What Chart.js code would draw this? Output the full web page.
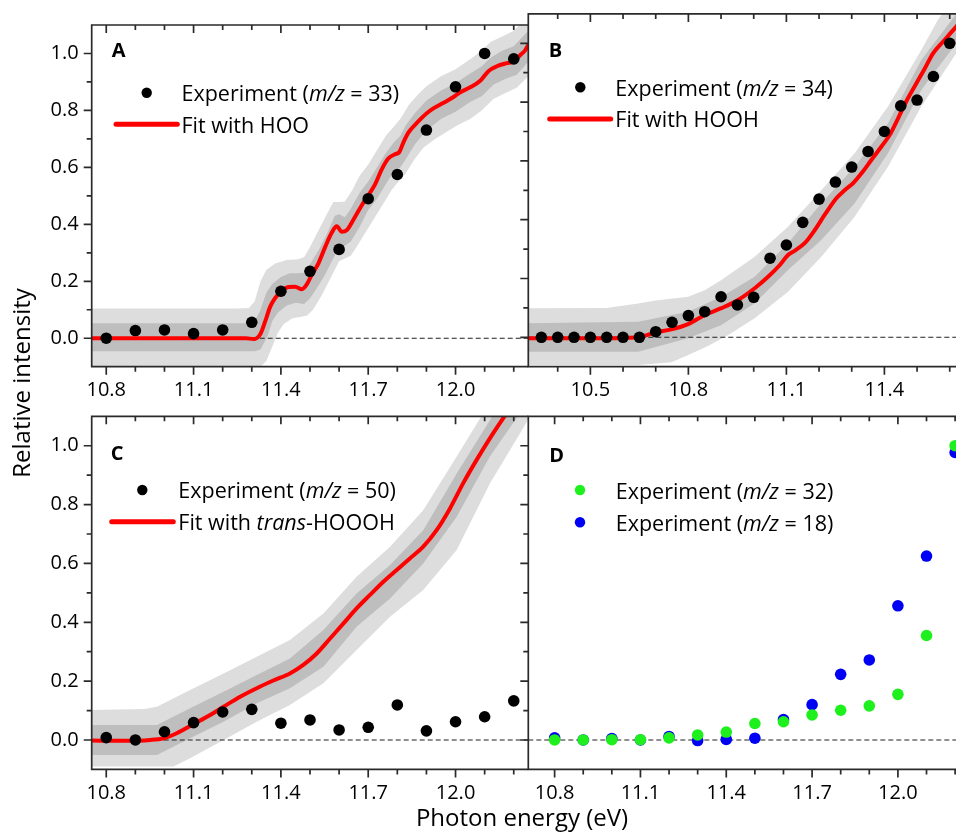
<!DOCTYPE html>
<html>
<head>
<meta charset="utf-8">
<script src="https://cdn.jsdelivr.net/npm/chart.js@4.4.1/dist/chart.umd.min.js"></script>
<style>
html,body{margin:0;padding:0;background:#fff;overflow:hidden;width:956px;height:838px;position:relative;}
canvas{position:absolute;left:0;top:0;}
</style>
</head>
<body>
<canvas id="cA"></canvas>
<canvas id="cB"></canvas>
<canvas id="cC"></canvas>
<canvas id="cD"></canvas>
<script>
// ================= DATA =================
// Photon energies of the measured points
const energy = [10.8,10.9,11.0,11.1,11.2,11.3,11.4,11.5,11.6,11.7,11.8,11.9,12.0,12.1,12.2];
const energyB = [10.35,10.40,10.45,10.50,10.55,10.60,10.65,10.70,10.75,10.80,10.85,10.90,10.95,11.00,11.05,11.10,11.15,11.20,11.25,11.30,11.35,11.40,11.45,11.50,11.55,11.60];

// Panel A: m/z = 33 and HOO fit
const expA = [0.000,0.027,0.029,0.016,0.029,0.056,0.165,0.235,0.312,0.490,0.575,0.731,0.883,1.000,0.981];
const fitA = [[10.75,0],[11.20,0],[11.28,0],[11.306,-0.003],[11.329,0.014],[11.346,0.059],[11.363,0.11],[11.38,0.141],[11.403,0.167],[11.426,0.18],[11.449,0.181],[11.472,0.172],[11.489,0.189],[11.506,0.223],[11.529,0.263],[11.552,0.32],[11.575,0.371],[11.592,0.393],[11.609,0.374],[11.626,0.379],[11.649,0.416],[11.678,0.467],[11.701,0.503],[11.724,0.541],[11.746,0.592],[11.769,0.631],[11.792,0.646],[11.807,0.654],[11.821,0.688],[11.838,0.722],[11.867,0.756],[11.901,0.79],[11.924,0.807],[11.959,0.827],[11.993,0.847],[12.016,0.864],[12.05,0.881],[12.085,0.904],[12.113,0.938],[12.142,0.955],[12.176,0.966],[12.199,0.972],[12.222,0.994],[12.239,1.011],[12.25,1.03]];
const lightUpA = [[10.75,0.104],[11.25,0.104],[11.29,0.106],[11.31,0.13],[11.33,0.2],[11.35,0.24],[11.38,0.262],[11.42,0.275],[11.46,0.277],[11.48,0.285],[11.50,0.32],[11.53,0.38],[11.56,0.44],[11.58,0.478],[11.60,0.478],[11.62,0.48],[11.645,0.52],[11.67,0.57],[11.70,0.61],[11.73,0.66],[11.76,0.71],[11.79,0.745],[11.81,0.77],[11.84,0.82],[11.87,0.855],[11.90,0.885],[11.95,0.92],[12.00,0.945],[12.05,0.98],[12.09,1.01],[12.12,1.04],[12.16,1.06],[12.20,1.08],[12.25,1.13]];
const lightLoA = [[10.75,-0.1],[11.33,-0.1],[11.35,-0.08],[11.37,-0.03],[11.39,0.02],[11.41,0.05],[11.44,0.07],[11.47,0.075],[11.49,0.08],[11.51,0.1],[11.54,0.15],[11.57,0.21],[11.60,0.27],[11.62,0.28],[11.64,0.29],[11.66,0.32],[11.69,0.37],[11.72,0.42],[11.75,0.47],[11.78,0.52],[11.80,0.545],[11.83,0.58],[11.86,0.63],[11.89,0.67],[11.93,0.7],[11.97,0.725],[12.01,0.75],[12.05,0.77],[12.09,0.8],[12.13,0.84],[12.17,0.86],[12.21,0.88],[12.25,0.92]];
const darkUpA = [[10.75,0.053],[11.28,0.053],[11.31,0.06],[11.33,0.1],[11.35,0.16],[11.37,0.19],[11.40,0.215],[11.43,0.228],[11.46,0.228],[11.48,0.23],[11.50,0.26],[11.53,0.31],[11.56,0.37],[11.585,0.43],[11.60,0.435],[11.62,0.425],[11.64,0.455],[11.67,0.51],[11.70,0.55],[11.73,0.6],[11.76,0.65],[11.79,0.69],[11.81,0.71],[11.83,0.75],[11.86,0.79],[11.90,0.835],[11.95,0.87],[12.00,0.895],[12.05,0.93],[12.09,0.955],[12.12,0.985],[12.16,1.01],[12.20,1.025],[12.25,1.08]];
const darkLoA = [[10.75,-0.046],[11.31,-0.046],[11.33,-0.04],[11.355,0.01],[11.37,0.06],[11.39,0.09],[11.42,0.115],[11.45,0.125],[11.48,0.12],[11.50,0.14],[11.52,0.17],[11.55,0.22],[11.58,0.28],[11.60,0.32],[11.62,0.325],[11.64,0.34],[11.67,0.39],[11.70,0.45],[11.73,0.49],[11.76,0.54],[11.79,0.59],[11.81,0.6],[11.83,0.63],[11.86,0.68],[11.90,0.73],[11.95,0.77],[12.00,0.795],[12.05,0.83],[12.09,0.85],[12.13,0.89],[12.17,0.91],[12.21,0.925],[12.25,0.97]];

// Panel B: m/z = 34 and HOOH fit
const expB = [0,0,0,0,0,0,0,0.019,0.051,0.074,0.087,0.138,0.110,0.136,0.269,0.314,0.391,0.470,0.528,0.579,0.632,0.700,0.787,0.807,0.887,1.000];
const fitB = [[10.31,-0.003],[10.564,-0.003],[10.656,0.002],[10.697,0.016],[10.748,0.027],[10.799,0.045],[10.85,0.076],[10.901,0.099],[10.952,0.127],[11.003,0.167],[11.044,0.206],[11.08,0.246],[11.105,0.28],[11.126,0.295],[11.156,0.32],[11.187,0.365],[11.217,0.416],[11.253,0.473],[11.279,0.501],[11.304,0.524],[11.33,0.558],[11.36,0.603],[11.391,0.649],[11.416,0.688],[11.442,0.745],[11.472,0.813],[11.498,0.864],[11.524,0.915],[11.549,0.966],[11.58,1.006],[11.62,1.057],[11.64,1.08]];
const lightUpB = [[10.31,0.099],[10.55,0.10],[10.646,0.115],[10.70,0.125],[10.799,0.138],[10.85,0.16],[10.901,0.195],[11.003,0.274],[11.105,0.376],[11.207,0.50],[11.309,0.626],[11.411,0.785],[11.513,0.977],[11.564,1.08],[11.64,1.2]];
const lightLoB = [[10.31,-0.094],[10.646,-0.094],[10.748,-0.085],[10.80,-0.06],[10.86,-0.03],[10.922,0.008],[11.003,0.065],[11.105,0.155],[11.207,0.274],[11.309,0.41],[11.411,0.58],[11.513,0.785],[11.62,0.966],[11.64,1.0]];
const darkUpB = [[10.31,0.048],[10.646,0.053],[10.799,0.087],[10.901,0.138],[11.003,0.206],[11.105,0.32],[11.207,0.456],[11.309,0.58],[11.411,0.728],[11.513,0.943],[11.62,1.1],[11.64,1.13]];
const darkLoB = [[10.31,-0.049],[10.646,-0.049],[10.799,-0.003],[10.901,0.042],[11.003,0.116],[11.105,0.229],[11.207,0.331],[11.309,0.456],[11.411,0.626],[11.513,0.841],[11.62,1.0],[11.64,1.03]];

// Panel C: m/z = 50 and trans-HOOOH fit
const expC = [0.008,0.000,0.028,0.059,0.095,0.104,0.057,0.068,0.034,0.043,0.119,0.031,0.062,0.079,0.133];
const fitC = [[10.745,-0.002],[10.859,-0.003],[10.951,0],[10.997,0.006],[11.042,0.023],[11.10,0.054],[11.157,0.085],[11.203,0.113],[11.26,0.147],[11.317,0.176],[11.374,0.202],[11.431,0.226],[11.477,0.255],[11.523,0.294],[11.569,0.345],[11.615,0.396],[11.66,0.447],[11.706,0.493],[11.752,0.538],[11.798,0.578],[11.843,0.617],[11.889,0.657],[11.935,0.713],[11.981,0.787],[12.026,0.872],[12.072,0.951],[12.118,1.025],[12.175,1.11],[12.25,1.22]];
const lightUpC = [[10.745,0.102],[10.93,0.105],[10.974,0.113],[11.088,0.17],[11.203,0.226],[11.317,0.283],[11.431,0.34],[11.546,0.43],[11.66,0.555],[11.775,0.657],[11.889,0.781],[12.004,0.963],[12.095,1.11],[12.25,1.35]];
const lightLoC = [[10.745,-0.09],[11.031,-0.09],[11.088,-0.062],[11.203,0.0],[11.317,0.062],[11.431,0.119],[11.546,0.193],[11.66,0.306],[11.775,0.419],[11.889,0.51],[12.004,0.646],[12.118,0.872],[12.228,1.053],[12.25,1.09]];
const darkUpC = [[10.745,0.051],[10.974,0.051],[11.088,0.108],[11.203,0.164],[11.317,0.221],[11.431,0.277],[11.546,0.374],[11.66,0.498],[11.775,0.595],[11.889,0.713],[12.004,0.906],[12.118,1.087],[12.25,1.3]];
const darkLoC = [[10.745,-0.051],[10.974,-0.051],[11.088,0.006],[11.203,0.062],[11.317,0.125],[11.431,0.176],[11.546,0.249],[11.66,0.385],[11.775,0.481],[11.889,0.6],[12.004,0.759],[12.118,0.963],[12.228,1.12],[12.25,1.15]];

// Panel D: m/z = 32 and m/z = 18
const expD32 = [0.000,0.000,0.001,0.001,0.007,0.017,0.027,0.056,0.062,0.085,0.101,0.116,0.155,0.355,1.000];
const expD18 = [0.007,0.000,0.005,0.000,0.012,-0.002,0.002,0.006,0.069,0.120,0.223,0.272,0.456,0.625,0.977];

// Axis ranges and ticks
const yRange = [-0.1, 1.1];
const xRangeAC = [10.75, 12.25];
const xRangeB = [10.31, 11.64];
const xRangeD = [10.708, 12.237];
const yMajorTicks = [0.0, 0.2, 0.4, 0.6, 0.8, 1.0];
const yMinorTicks = [0.0,0.1,0.2,0.3,0.4,0.5,0.6,0.7,0.8,0.9,1.0];
const xMajorTicksACD = [10.8, 11.1, 11.4, 11.7, 12.0];
const xMinorTicksACD = [10.8,10.9,11.0,11.1,11.2,11.3,11.4,11.5,11.6,11.7,11.8,11.9,12.0,12.1,12.2];
const xMajorTicksB = [10.5, 10.8, 11.1, 11.4];
const xMinorTicksB = [10.4,10.5,10.6,10.7,10.8,10.9,11.0,11.1,11.2,11.3,11.4,11.5,11.6];

// Text
const panelLetters = ['A','B','C','D'];
const legendTextA = [[['Experiment (',0],['m/z',1],[' = 33)',0]], [['Fit with HOO',0]]];
const legendTextB = [[['Experiment (',0],['m/z',1],[' = 34)',0]], [['Fit with HOOH',0]]];
const legendTextC = [[['Experiment (',0],['m/z',1],[' = 50)',0]], [['Fit with ',0],['trans',1],['-HOOOH',0]]];
const legendTextD = [[['Experiment (',0],['m/z',1],[' = 32)',0]], [['Experiment (',0],['m/z',1],[' = 18)',0]]];
const yTitle = 'Relative intensity';
const xTitle = 'Photon energy (eV)';

// ================= STYLE / LAYOUT =================
const FONT = "'Open Sans', sans-serif";
Chart.defaults.font.family = FONT;
const W = 980, H = 838, YW = 80, XH = 40;
const LIGHT = '#dddddd', DARK = '#bebebe', RED = '#ff0000', AXIS = '#2a2a2a';
const GREEN = '#1ef01e', BLUE = '#0000f5';

const toPts = arr => arr.map(([x, y]) => ({x, y}));
const zipPts = (xs, ys) => xs.map((x, i) => ({x, y: ys[i]}));
const poly = (up, lo) => toPts(up).concat(toPts(lo).reverse());

function band(up, lo, color, order) {
  return {type: 'line', data: poly(up, lo), showLine: true, fill: 'shape', backgroundColor: color,
    borderWidth: 0, borderColor: 'rgba(0,0,0,0)', pointRadius: 0, tension: 0, order};
}
function fitLine(arr) {
  return {type: 'line', data: toPts(arr), borderColor: RED, borderWidth: 4, pointRadius: 0, fill: false,
    cubicInterpolationMode: 'monotone', borderJoinStyle: 'round', borderCapStyle: 'round', order: 20};
}
function zeroLine(range) {
  return {type: 'line', data: [{x: range[0], y: 0}, {x: range[1], y: 0}], borderColor: '#222',
    borderWidth: 1.1, borderDash: [5, 3], pointRadius: 0, fill: false, order: 30};
}
function dots(xs, ys, color, order) {
  return {type: 'scatter', data: zipPts(xs, ys), pointRadius: 5.8, pointBackgroundColor: color,
    pointBorderWidth: 0, pointBorderColor: color, showLine: false, order};
}

function drawRich(ctx, parts, x, y, size) {
  let cx = x;
  parts.forEach(([t, it]) => {
    ctx.font = (it ? 'italic ' : '') + size + 'px ' + FONT;
    ctx.fillText(t, cx, y);
    cx += ctx.measureText(t).width;
  });
}

const framePlugin = {
  id: 'frame',
  afterDatasetsDraw(chart, args, o) {
    const ctx = chart.ctx;
    const {left, right, top, bottom} = chart.chartArea;
    const xs = chart.scales.x, ys = chart.scales.y;
    ctx.save();
    ctx.strokeStyle = AXIS; ctx.lineWidth = 1.7; ctx.setLineDash([]);
    ctx.beginPath();
    ctx.moveTo(right, top); ctx.lineTo(left, top); ctx.lineTo(left, bottom); ctx.lineTo(right, bottom);
    ctx.stroke();
    ctx.beginPath();
    o.xMinor.forEach(v => {
      const p = xs.getPixelForValue(v);
      const len = o.xMajor.some(m => Math.abs(m - v) < 1e-9) ? 8 : 5;
      ctx.moveTo(p, bottom); ctx.lineTo(p, bottom + len);
      ctx.moveTo(p, top); ctx.lineTo(p, top + len);
    });
    yMinorTicks.forEach(v => {
      const p = ys.getPixelForValue(v);
      const len = yMajorTicks.some(m => Math.abs(m - v) < 1e-9) ? 8 : 5;
      ctx.moveTo(left, p); ctx.lineTo(left - len, p);
    });
    ctx.stroke();
    // panel letter
    ctx.fillStyle = '#000';
    ctx.textBaseline = 'alphabetic'; ctx.textAlign = 'left';
    ctx.font = 'bold 20px ' + FONT;
    ctx.fillText(o.letter, o.letterPos[0], o.letterPos[1]);
    // legend
    o.legend.forEach(item => {
      if (item.kind === 'dot') {
        ctx.fillStyle = item.color;
        ctx.beginPath(); ctx.arc(item.m[0], item.m[1], 5.2, 0, Math.PI * 2); ctx.fill();
      } else {
        ctx.strokeStyle = item.color; ctx.lineWidth = 5; ctx.lineCap = 'round';
        ctx.beginPath(); ctx.moveTo(item.m[0], item.m[2]); ctx.lineTo(item.m[1], item.m[2]); ctx.stroke();
      }
      ctx.fillStyle = '#000';
      drawRich(ctx, item.parts, item.t[0], item.t[1], 21.5);
    });
    if (o.titles) {
      ctx.fillStyle = '#000';
      ctx.font = '24px ' + FONT;
      ctx.textAlign = 'center';
      ctx.fillText(xTitle, 522, 826);
      ctx.save();
      ctx.translate(30, 383);
      ctx.rotate(-Math.PI / 2);
      ctx.fillText(yTitle, 0, 0);
      ctx.restore();
    }
    ctx.restore();
  }
};

function makePanel(id, p) {
  const cv = document.getElementById(id);
  cv.width = W; cv.height = H;
  const a = p.area;
  new Chart(cv, {
    type: 'scatter',
    data: {datasets: p.datasets},
    options: {
      responsive: false, animation: false, devicePixelRatio: 1,
      layout: {padding: {left: a[0] - (p.yLabels ? YW : 0), top: a[2], right: W - a[1], bottom: H - a[3] - XH}},
      plugins: {legend: {display: false}, tooltip: {enabled: false}, frame: p.frame},
      scales: {
        x: {type: 'linear', min: p.xRange[0], max: p.xRange[1],
          grid: {display: false, drawTicks: false}, border: {display: false},
          ticks: {autoSkip: false, maxRotation: 0, padding: 12, color: '#000', font: {family: FONT, size: 20},
            callback: v => v.toFixed(1)},
          afterBuildTicks: s => { s.ticks = p.frame.xMajor.map(v => ({value: v})); },
          afterFit: s => { s.height = XH; }},
        y: {type: 'linear', display: p.yLabels, min: yRange[0], max: yRange[1],
          grid: {display: false, drawTicks: false}, border: {display: false},
          ticks: {autoSkip: false, padding: 13, color: '#000', font: {family: FONT, size: 20},
            callback: v => v.toFixed(1)},
          afterBuildTicks: s => { s.ticks = yMajorTicks.map(v => ({value: v})); },
          afterFit: s => { s.width = p.yLabels ? YW : 0; }}
      }
    },
    plugins: [framePlugin]
  });
}

makePanel('cA', {
  area: [91.7, 528.3, 13.9, 366.7], xRange: xRangeAC, yLabels: true,
  datasets: [band(lightUpA, lightLoA, LIGHT, 50), band(darkUpA, darkLoA, DARK, 40), zeroLine(xRangeAC), fitLine(fitA), dots(energy, expA, '#000', 10)],
  frame: {xMajor: xMajorTicksACD, xMinor: xMinorTicksACD, letter: panelLetters[0], letterPos: [111.7, 57.3], titles: true,
    legend: [{kind: 'dot', color: '#000', m: [146.7, 92.7], t: [181.5, 101], parts: legendTextA[0]},
             {kind: 'line', color: RED, m: [116, 177.3, 124.3], t: [181.5, 133], parts: legendTextA[1]}]}
});
makePanel('cB', {
  area: [528.3, 962.8, 13.9, 366.7], xRange: xRangeB, yLabels: false,
  datasets: [band(lightUpB, lightLoB, LIGHT, 50), band(darkUpB, darkLoB, DARK, 40), zeroLine(xRangeB), fitLine(fitB), dots(energyB, expB, '#000', 10)],
  frame: {xMajor: xMajorTicksB, xMinor: xMinorTicksB, letter: panelLetters[1], letterPos: [548.7, 57.3], titles: false,
    legend: [{kind: 'dot', color: '#000', m: [580.3, 87.3], t: [615.3, 96], parts: legendTextB[0]},
             {kind: 'line', color: RED, m: [549.7, 610.7, 119], t: [615.3, 127.3], parts: legendTextB[1]}]}
});
makePanel('cC', {
  area: [91.7, 528.3, 416.3, 769.4], xRange: xRangeAC, yLabels: true,
  datasets: [band(lightUpC, lightLoC, LIGHT, 50), band(darkUpC, darkLoC, DARK, 40), zeroLine(xRangeAC), fitLine(fitC), dots(energy, expC, '#000', 10)],
  frame: {xMajor: xMajorTicksACD, xMinor: xMinorTicksACD, letter: panelLetters[2], letterPos: [110.7, 460], titles: false,
    legend: [{kind: 'dot', color: '#000', m: [142.3, 490], t: [178.3, 498.3], parts: legendTextC[0]},
             {kind: 'line', color: RED, m: [111.7, 173.3, 521.7], t: [178.3, 530], parts: legendTextC[1]}]}
});
makePanel('cD', {
  area: [528.3, 965.7, 416.3, 769.4], xRange: xRangeD, yLabels: false,
  datasets: [zeroLine(xRangeD), dots(energy, expD32, GREEN, 10), dots(energy, expD18, BLUE, 11)],
  frame: {xMajor: xMajorTicksACD, xMinor: xMinorTicksACD, letter: panelLetters[3], letterPos: [549.3, 461.7], titles: false,
    legend: [{kind: 'dot', color: GREEN, m: [580, 490], t: [615.7, 499], parts: legendTextD[0]},
             {kind: 'dot', color: BLUE, m: [580, 522.3], t: [615.7, 531], parts: legendTextD[1]}]}
});
</script>
</body>
</html>
